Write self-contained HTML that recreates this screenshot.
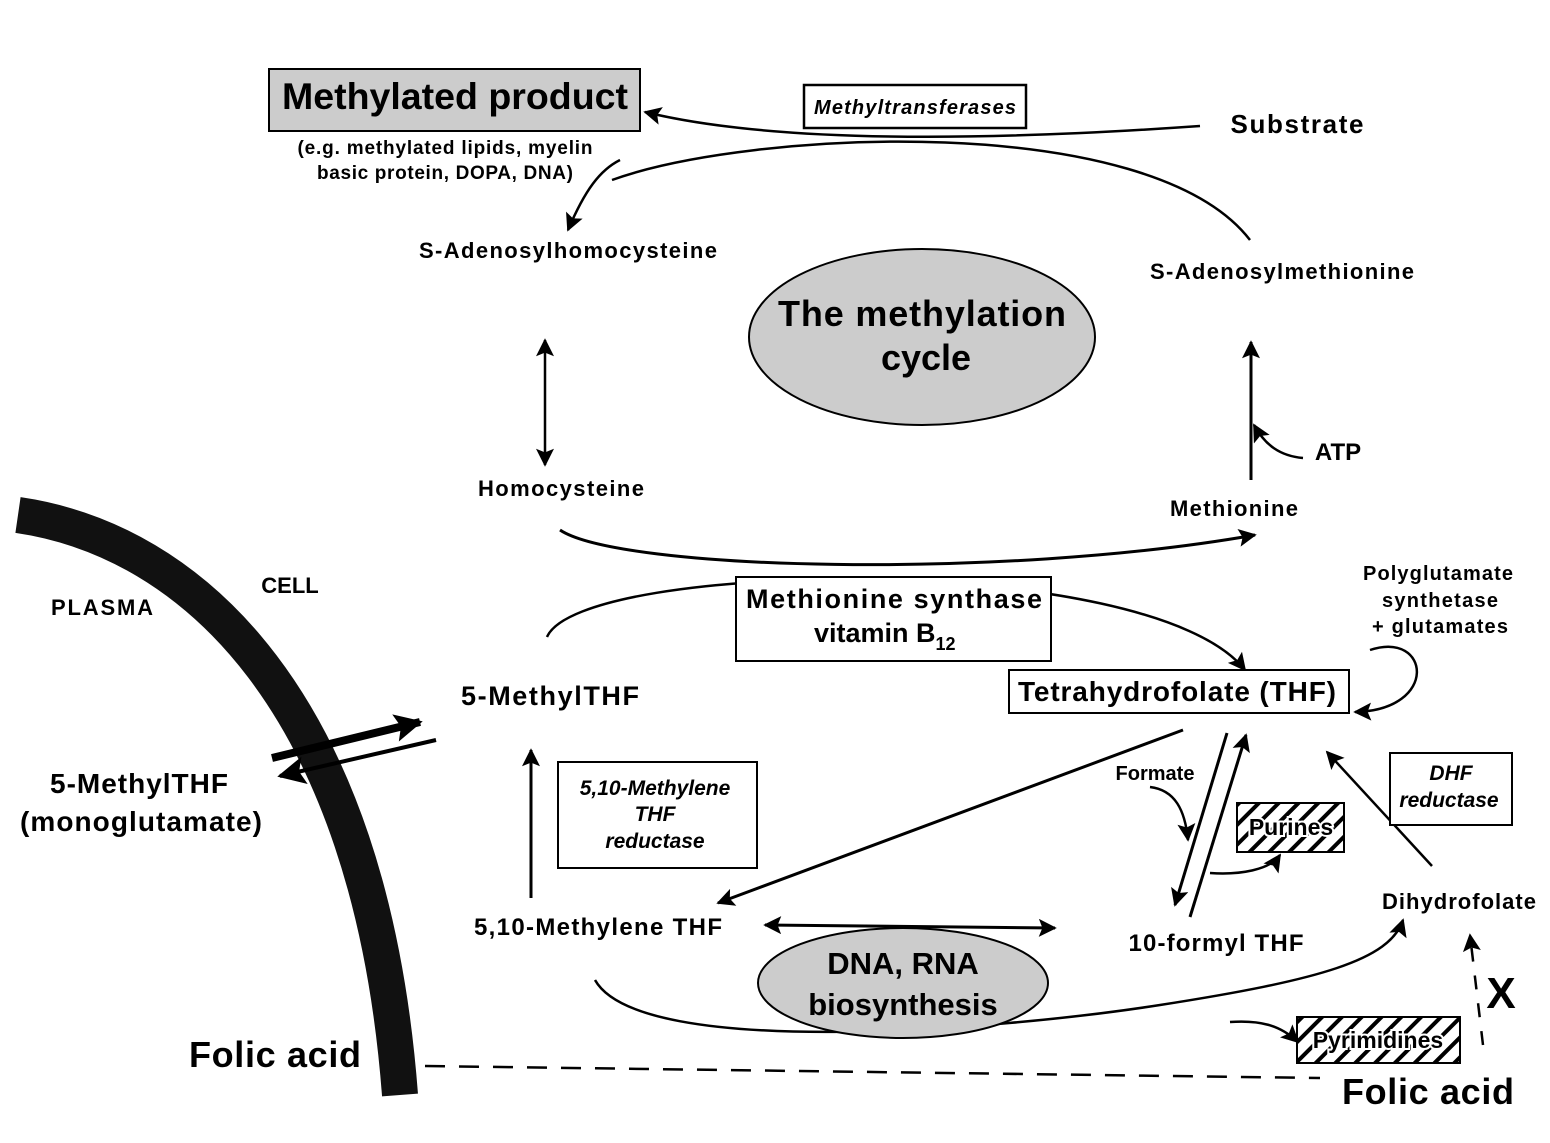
<!DOCTYPE html>
<html><head><meta charset="utf-8"><style>
html,body{margin:0;padding:0;background:#fff}
svg{display:block}
text{font-family:"Liberation Sans",Arial,sans-serif;font-weight:bold;fill:#000}
</style></head><body>
<svg width="1550" height="1143" viewBox="0 0 1550 1143" xmlns="http://www.w3.org/2000/svg">
<defs>
<marker id="b" viewBox="0 0 10 10" refX="9" refY="5" markerWidth="26" markerHeight="18" orient="auto-start-reverse" markerUnits="userSpaceOnUse"><path d="M0,0 L10,5 L0,10 L2,5 z"/></marker>
<marker id="c" viewBox="0 0 10 10" refX="9" refY="5" markerWidth="40" markerHeight="28" orient="auto-start-reverse" markerUnits="userSpaceOnUse"><path d="M0,0 L10,5 L0,10 L2,5 z"/></marker>
<pattern id="h" width="14" height="14" patternUnits="userSpaceOnUse" patternTransform="rotate(45)"><rect width="14" height="14" fill="#fff"/><rect width="4" height="14" fill="#000"/></pattern>
</defs>
<g fill="none" stroke="#000" stroke-width="2.5">
<path d="M18,515 C190,540 370,700 400,1095" stroke="#111" stroke-width="36"/>
<path d="M1200,126 C1000,140 780,145 645,112" marker-end="url(#b)"/>
<path d="M612,180 C750,130 1150,110 1250,240"/>
<path d="M620,160 C600,170 585,190 568,230" marker-end="url(#b)"/>
<path d="M545,340 L545,465" marker-start="url(#b)" marker-end="url(#b)"/>
<path d="M1251,480 L1251,342" stroke-width="3" marker-end="url(#b)"/>
<path d="M1303,458 C1280,456 1265,445 1254,425" marker-end="url(#b)"/>
<path d="M560,530 C620,570 1000,580 1255,535" stroke-width="3" marker-end="url(#b)"/>
<path d="M547,637 C580,560 1150,550 1245,670" marker-end="url(#b)"/>
<path d="M1370,650 C1430,630 1440,710 1355,712" marker-end="url(#b)"/>
<path d="M1183,730 L718,903" stroke-width="3" marker-end="url(#b)"/>
<path d="M531,898 L531,750" stroke-width="3" marker-end="url(#b)"/>
<path d="M765,925 L1055,928" stroke-width="3" marker-start="url(#b)" marker-end="url(#b)"/>
<path d="M1227,733 L1175,905" stroke-width="3" marker-end="url(#b)"/>
<path d="M1190,917 L1246,735" stroke-width="3" marker-end="url(#b)"/>
<path d="M1150,787 C1175,790 1185,810 1188,840" marker-end="url(#b)"/>
<path d="M1210,873 C1240,875 1270,870 1280,855" marker-end="url(#b)"/>
<path d="M1432,866 L1327,752" stroke-width="2.5" marker-end="url(#b)"/>
<path d="M595,980 C640,1060 1000,1030 1160,1005 C1320,980 1390,960 1403,920" marker-end="url(#b)"/>
<path d="M1230,1022 C1260,1020 1280,1025 1298,1042" marker-end="url(#b)"/>
<path d="M425,1066 L1320,1078" stroke-dasharray="20,14"/>
<path d="M1483,1045 L1470,935" stroke-dasharray="14,14" marker-end="url(#b)"/>
<path d="M272,758 L420,722" stroke-width="8" marker-end="url(#c)"/>
<path d="M436,740 L280,776" stroke-width="4" marker-end="url(#c)"/>
</g>
<rect x="269" y="69" width="371" height="62" fill="#ccc" stroke="#000" stroke-width="2"/>
<rect x="804" y="85" width="222" height="43" fill="#fff" stroke="#000" stroke-width="2.5"/>
<ellipse cx="922" cy="337" rx="173" ry="88" fill="#ccc" stroke="#000" stroke-width="2"/>
<rect x="736" y="577" width="315" height="84" fill="#fff" stroke="#000" stroke-width="2"/>
<rect x="1009" y="670" width="340" height="43" fill="#fff" stroke="#000" stroke-width="2"/>
<rect x="558" y="762" width="199" height="106" fill="#fff" stroke="#000" stroke-width="2"/>
<rect x="1390" y="753" width="122" height="72" fill="#fff" stroke="#000" stroke-width="2"/>
<rect x="1237" y="803" width="107" height="49" fill="url(#h)" stroke="#000" stroke-width="2"/>
<rect x="1297" y="1017" width="163" height="46" fill="url(#h)" stroke="#000" stroke-width="2"/>
<ellipse cx="903" cy="983" rx="145" ry="55" fill="#ccc" stroke="#000" stroke-width="2"/>
<text x="455" y="109" font-size="37" text-anchor="middle" textLength="346" lengthAdjust="spacingAndGlyphs">Methylated product</text>
<text x="445" y="154" font-size="19" text-anchor="middle" textLength="295">(e.g. methylated lipids, myelin</text>
<text x="445" y="179" font-size="19" text-anchor="middle" textLength="256">basic protein, DOPA, DNA)</text>
<text x="915" y="114" font-size="20" font-style="italic" text-anchor="middle" textLength="202">Methyltransferases</text>
<text x="1297" y="133" font-size="26" text-anchor="middle" textLength="133">Substrate</text>
<text x="568" y="258" font-size="22" text-anchor="middle" textLength="298">S-Adenosylhomocysteine</text>
<text x="1282" y="279" font-size="22" text-anchor="middle" textLength="264">S-Adenosylmethionine</text>
<text x="922" y="326" font-size="36" text-anchor="middle" textLength="288">The methylation</text>
<text x="926" y="370" font-size="36" text-anchor="middle">cycle</text>
<text x="1338" y="460" font-size="24" text-anchor="middle">ATP</text>
<text x="561" y="496" font-size="22" text-anchor="middle" textLength="166">Homocysteine</text>
<text x="1234" y="516" font-size="22" text-anchor="middle" textLength="128">Methionine</text>
<text x="290" y="593" font-size="22" text-anchor="middle">CELL</text>
<text x="102" y="615" font-size="22" text-anchor="middle" textLength="102">PLASMA</text>
<text x="1438" y="580" font-size="20" text-anchor="middle" textLength="150">Polyglutamate</text>
<text x="1440" y="607" font-size="20" text-anchor="middle" textLength="116">synthetase</text>
<text x="1440" y="633" font-size="20" text-anchor="middle" textLength="136">+ glutamates</text>
<text x="894" y="608" font-size="27" text-anchor="middle" textLength="296">Methionine synthase</text>
<text x="814" y="642" font-size="27">vitamin B<tspan font-size="18" dy="8">12</tspan></text>
<text x="550" y="705" font-size="27" text-anchor="middle" textLength="178">5-MethylTHF</text>
<text x="1177" y="701" font-size="28" text-anchor="middle" textLength="318">Tetrahydrofolate (THF)</text>
<text x="139" y="793" font-size="28" text-anchor="middle" textLength="178">5-MethylTHF</text>
<text x="141" y="831" font-size="28" text-anchor="middle" textLength="242">(monoglutamate)</text>
<text x="655" y="795" font-size="21" font-style="italic" text-anchor="middle">5,10-Methylene</text>
<text x="655" y="821" font-size="21" font-style="italic" text-anchor="middle">THF</text>
<text x="655" y="848" font-size="21" font-style="italic" text-anchor="middle">reductase</text>
<text x="1155" y="780" font-size="20" text-anchor="middle">Formate</text>
<text x="1451" y="780" font-size="21" font-style="italic" text-anchor="middle">DHF</text>
<text x="1449" y="807" font-size="21" font-style="italic" text-anchor="middle">reductase</text>
<text x="1291" y="835" font-size="23" text-anchor="middle" style="paint-order:stroke;stroke:#fff;stroke-width:4">Purines</text>
<text x="1459" y="909" font-size="22" text-anchor="middle" textLength="154">Dihydrofolate</text>
<text x="598" y="935" font-size="24" text-anchor="middle" textLength="248">5,10-Methylene THF</text>
<text x="1216" y="951" font-size="24" text-anchor="middle" textLength="175">10-formyl THF</text>
<text x="903" y="974" font-size="31" text-anchor="middle">DNA, RNA</text>
<text x="903" y="1015" font-size="31" text-anchor="middle">biosynthesis</text>
<text x="1501" y="1008" font-size="44" text-anchor="middle">X</text>
<text x="1378" y="1048" font-size="23" text-anchor="middle" style="paint-order:stroke;stroke:#fff;stroke-width:4">Pyrimidines</text>
<text x="275" y="1067" font-size="36" text-anchor="middle" textLength="172">Folic acid</text>
<text x="1428" y="1104" font-size="36" text-anchor="middle" textLength="172">Folic acid</text>
</svg>
</body></html>
